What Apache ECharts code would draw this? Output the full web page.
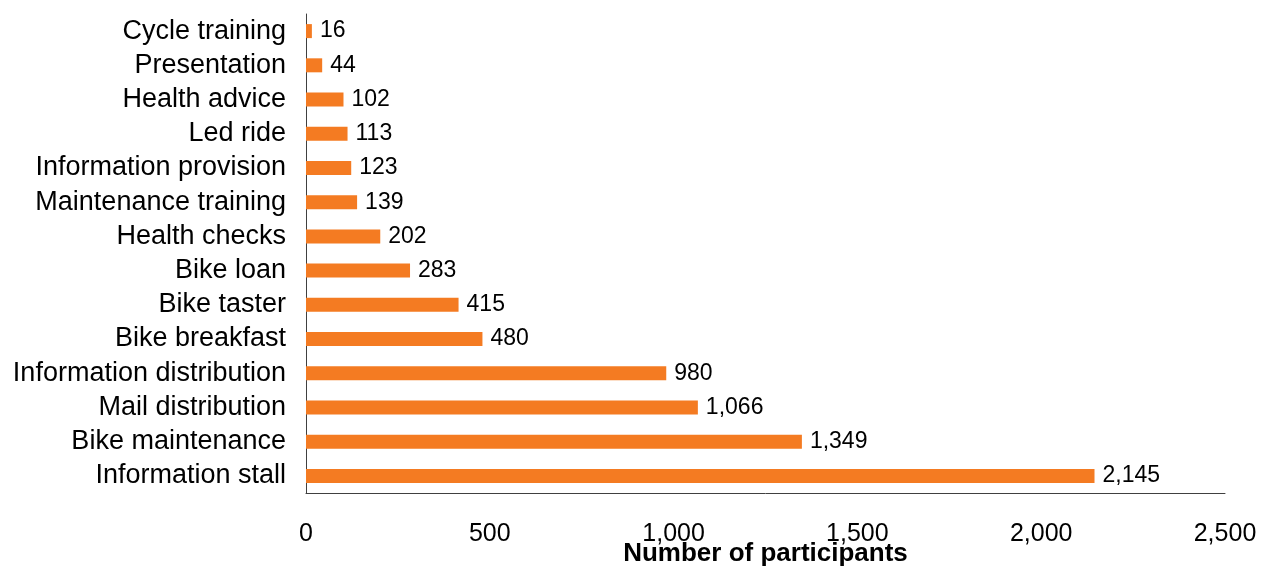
<!DOCTYPE html>
<html>
<head>
<meta charset="utf-8">
<script src="https://cdn.jsdelivr.net/npm/echarts@6/dist/echarts.min.js"></script>
<style>
  html, body { margin: 0; padding: 0; background: #ffffff; }
  #chart { width: 1263px; height: 570px; }
</style>
</head>
<body>
<div id="chart"></div>
<script>
// Activity types, listed bottom-to-top as drawn on the category axis
const activities = [
  'Information stall',
  'Bike maintenance',
  'Mail distribution',
  'Information distribution',
  'Bike breakfast',
  'Bike taster',
  'Bike loan',
  'Health checks',
  'Maintenance training',
  'Information provision',
  'Led ride',
  'Health advice',
  'Presentation',
  'Cycle training'
];

// Participants per activity, same order as above
const participants = [2145, 1349, 1066, 980, 480, 415, 283, 202, 139, 123, 113, 102, 44, 16];

// Value axis range and step
const axisMin = 0;
const axisMax = 2500;
const axisStep = 500;

const FONT = '"Liberation Sans", Arial, Helvetica, sans-serif';
const fmt = v => v.toLocaleString('en-US');

const chart = echarts.init(document.getElementById('chart'), null, { renderer: 'canvas' });

chart.setOption({
  animation: false,
  backgroundColor: '#ffffff',
  grid: {
    left: 306, right: 38, top: 14, bottom: 77,
    containLabel: false,
    outerBoundsMode: 'none'
  },
  xAxis: {
    type: 'value',
    min: axisMin,
    max: axisMax,
    interval: axisStep,
    name: 'Number of participants',
    nameLocation: 'middle',
    nameGap: 48,
    nameMoveOverlap: false,
    nameTextStyle: { fontFamily: FONT, fontSize: 26, fontWeight: 'bold', color: '#000' },
    axisLine: { show: true, lineStyle: { color: '#404040', width: 1 } },
    axisTick: { show: false },
    splitLine: { show: false },
    axisLabel: {
      margin: 29,
      fontFamily: FONT,
      fontSize: 25,
      color: '#000',
      formatter: v => fmt(v)
    }
  },
  yAxis: {
    type: 'category',
    data: activities,
    axisLine: { show: true, lineStyle: { color: '#404040', width: 1 } },
    axisTick: { show: false },
    splitLine: { show: false },
    axisLabel: {
      interval: 0,
      hideOverlap: false,
      margin: 20,
      fontFamily: FONT,
      fontSize: 27,
      color: '#000'
    }
  },
  series: [{
    type: 'bar',
    data: participants,
    barWidth: 14,
    itemStyle: { color: '#F47B22' },
    label: {
      show: true,
      position: 'right',
      distance: 8,
      fontFamily: FONT,
      fontSize: 23,
      color: '#000',
      formatter: p => fmt(p.value)
    }
  }]
});
</script>
</body>
</html>
